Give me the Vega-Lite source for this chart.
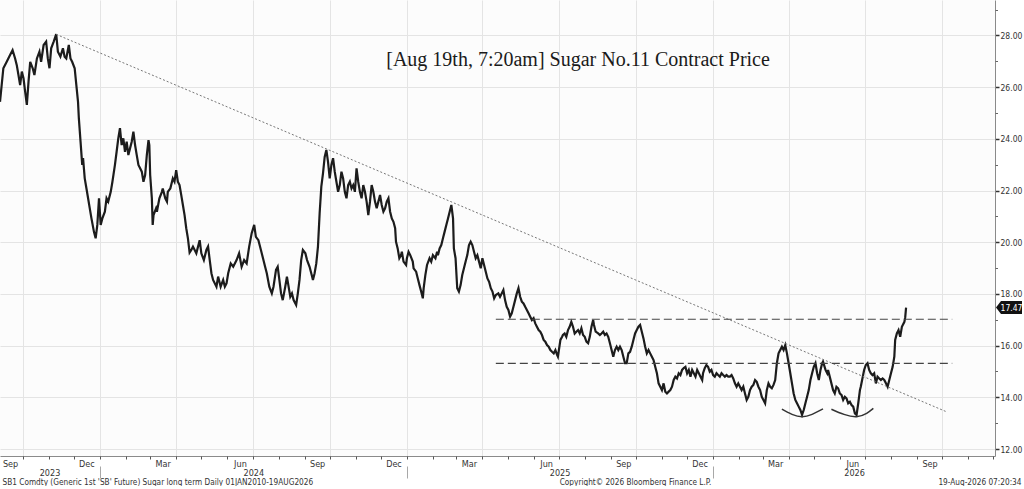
{
  "$schema": "https://vega.github.io/schema/vega-lite/v6.json",
  "width": 995,
  "height": 456,
  "padding": 0,
  "autosize": {"type": "pad"},
  "background": "#ffffff",
  "config": {
    "view": {"stroke": null, "fill": "#fcfcfc"},
    "axis": {
      "labelFont": "Liberation Sans Narrow, DejaVu Sans Condensed, sans-serif",
      "titleFont": "Liberation Sans Narrow, DejaVu Sans Condensed, sans-serif",
      "labelColor": "#333333",
      "titleColor": "#333333",
      "labelFontSize": 9.5,
      "titleFontSize": 8.2,
      "titleFontWeight": "normal"
    }
  },
  "datasets": {
    "prices": [
      {"date":"2023-09-04","price":25.43},{"date":"2023-09-08","price":26.73},{"date":"2023-09-12","price":26.98},{"date":"2023-09-16","price":27.24},
      {"date":"2023-09-19","price":27.43},{"date":"2023-09-22","price":27.11},{"date":"2023-09-24","price":26.85},{"date":"2023-09-26","price":26.47},
      {"date":"2023-09-28","price":26.08},{"date":"2023-09-30","price":26.60},{"date":"2023-10-02","price":26.34},{"date":"2023-10-04","price":25.82},
      {"date":"2023-10-06","price":25.31},{"date":"2023-10-08","price":26.21},{"date":"2023-10-10","price":26.98},{"date":"2023-10-13","price":26.73},
      {"date":"2023-10-15","price":26.47},{"date":"2023-10-18","price":27.11},{"date":"2023-10-21","price":27.37},{"date":"2023-10-23","price":26.98},
      {"date":"2023-10-26","price":27.63},{"date":"2023-10-29","price":27.76},{"date":"2023-10-31","price":27.11},{"date":"2023-11-02","price":26.73},
      {"date":"2023-11-04","price":27.50},{"date":"2023-11-07","price":27.76},{"date":"2023-11-10","price":28.05},{"date":"2023-11-12","price":27.37},
      {"date":"2023-11-15","price":27.18},{"date":"2023-11-18","price":27.50},{"date":"2023-11-20","price":27.18},{"date":"2023-11-22","price":27.11},
      {"date":"2023-11-25","price":27.63},{"date":"2023-11-27","price":27.11},{"date":"2023-11-29","price":26.98},{"date":"2023-12-02","price":26.73},
      {"date":"2023-12-04","price":26.08},{"date":"2023-12-06","price":25.43},{"date":"2023-12-07","price":24.79},{"date":"2023-12-09","price":23.89},
      {"date":"2023-12-11","price":22.99},{"date":"2023-12-12","price":23.25},{"date":"2023-12-14","price":22.47},{"date":"2023-12-16","price":22.09},
      {"date":"2023-12-18","price":21.70},{"date":"2023-12-20","price":21.31},{"date":"2023-12-22","price":20.92},{"date":"2023-12-25","price":20.40},
      {"date":"2023-12-27","price":20.15},{"date":"2023-12-29","price":20.67},{"date":"2023-12-31","price":21.70},{"date":"2024-01-02","price":20.67},
      {"date":"2024-01-04","price":20.92},{"date":"2024-01-07","price":21.18},{"date":"2024-01-09","price":21.70},{"date":"2024-01-11","price":21.57},
      {"date":"2024-01-14","price":21.95},{"date":"2024-01-16","price":22.34},{"date":"2024-01-19","price":22.99},{"date":"2024-01-21","price":23.50},
      {"date":"2024-01-23","price":24.02},{"date":"2024-01-25","price":24.41},{"date":"2024-01-27","price":23.76},{"date":"2024-01-29","price":24.02},
      {"date":"2024-01-31","price":23.50},{"date":"2024-02-02","price":23.89},{"date":"2024-02-04","price":23.37},{"date":"2024-02-06","price":23.63},
      {"date":"2024-02-08","price":23.89},{"date":"2024-02-10","price":24.28},{"date":"2024-02-12","price":23.76},{"date":"2024-02-14","price":23.37},
      {"date":"2024-02-16","price":22.99},{"date":"2024-02-18","price":22.86},{"date":"2024-02-20","price":22.73},{"date":"2024-02-22","price":22.34},
      {"date":"2024-02-24","price":22.60},{"date":"2024-02-26","price":23.37},{"date":"2024-02-28","price":23.95},{"date":"2024-02-29","price":23.76},
      {"date":"2024-03-01","price":22.60},{"date":"2024-03-03","price":21.70},{"date":"2024-03-04","price":20.67},{"date":"2024-03-05","price":21.05},
      {"date":"2024-03-08","price":21.31},{"date":"2024-03-09","price":21.18},{"date":"2024-03-12","price":21.70},{"date":"2024-03-15","price":21.95},
      {"date":"2024-03-16","price":22.08},{"date":"2024-03-19","price":21.70},{"date":"2024-03-21","price":21.57},{"date":"2024-03-22","price":21.95},
      {"date":"2024-03-25","price":22.08},{"date":"2024-03-28","price":22.47},{"date":"2024-03-30","price":22.34},{"date":"2024-04-01","price":22.79},
      {"date":"2024-04-03","price":22.34},{"date":"2024-04-05","price":22.21},{"date":"2024-04-07","price":21.83},{"date":"2024-04-09","price":21.44},
      {"date":"2024-04-11","price":21.05},{"date":"2024-04-13","price":20.54},{"date":"2024-04-15","price":20.15},{"date":"2024-04-17","price":19.60},
      {"date":"2024-04-19","price":19.70},{"date":"2024-04-21","price":19.83},{"date":"2024-04-25","price":19.57},{"date":"2024-04-29","price":20.08},
      {"date":"2024-05-01","price":19.57},{"date":"2024-05-04","price":19.31},{"date":"2024-05-07","price":19.70},{"date":"2024-05-09","price":19.83},
      {"date":"2024-05-11","price":19.31},{"date":"2024-05-13","price":18.80},{"date":"2024-05-15","price":18.54},{"date":"2024-05-19","price":18.28},
      {"date":"2024-05-21","price":18.67},{"date":"2024-05-24","price":18.28},{"date":"2024-05-27","price":18.54},{"date":"2024-05-29","price":18.28},
      {"date":"2024-05-31","price":18.41},{"date":"2024-06-02","price":18.80},{"date":"2024-06-05","price":19.18},{"date":"2024-06-08","price":19.05},
      {"date":"2024-06-12","price":19.31},{"date":"2024-06-15","price":19.57},{"date":"2024-06-18","price":19.05},{"date":"2024-06-21","price":19.31},
      {"date":"2024-06-24","price":19.18},{"date":"2024-06-27","price":19.83},{"date":"2024-06-30","price":20.35},{"date":"2024-07-03","price":20.67},
      {"date":"2024-07-05","price":20.21},{"date":"2024-07-08","price":20.08},{"date":"2024-07-11","price":19.70},{"date":"2024-07-14","price":19.31},
      {"date":"2024-07-16","price":19.05},{"date":"2024-07-18","price":18.80},{"date":"2024-07-21","price":18.28},{"date":"2024-07-24","price":18.02},
      {"date":"2024-07-26","price":18.28},{"date":"2024-07-29","price":18.93},{"date":"2024-07-31","price":19.05},{"date":"2024-08-02","price":18.54},
      {"date":"2024-08-04","price":18.02},{"date":"2024-08-06","price":17.76},{"date":"2024-08-09","price":18.28},{"date":"2024-08-11","price":18.67},
      {"date":"2024-08-13","price":18.28},{"date":"2024-08-15","price":17.89},{"date":"2024-08-17","price":18.02},{"date":"2024-08-19","price":17.76},
      {"date":"2024-08-22","price":17.57},{"date":"2024-08-24","price":18.02},{"date":"2024-08-26","price":18.54},{"date":"2024-08-28","price":19.31},
      {"date":"2024-08-30","price":19.70},{"date":"2024-09-02","price":19.57},{"date":"2024-09-04","price":19.31},{"date":"2024-09-07","price":19.05},
      {"date":"2024-09-10","price":18.67},{"date":"2024-09-11","price":18.54},{"date":"2024-09-13","price":18.80},{"date":"2024-09-15","price":19.18},
      {"date":"2024-09-17","price":19.83},{"date":"2024-09-19","price":21.12},{"date":"2024-09-21","price":22.15},{"date":"2024-09-23","price":22.66},
      {"date":"2024-09-25","price":23.30},{"date":"2024-09-27","price":23.57},{"date":"2024-09-29","price":23.11},{"date":"2024-10-01","price":22.47},
      {"date":"2024-10-03","price":22.99},{"date":"2024-10-05","price":23.25},{"date":"2024-10-07","price":22.73},{"date":"2024-10-09","price":22.34},
      {"date":"2024-10-11","price":21.95},{"date":"2024-10-13","price":22.21},{"date":"2024-10-15","price":22.73},{"date":"2024-10-17","price":22.47},
      {"date":"2024-10-19","price":21.95},{"date":"2024-10-21","price":21.70},{"date":"2024-10-23","price":22.21},{"date":"2024-10-25","price":22.34},
      {"date":"2024-10-27","price":22.08},{"date":"2024-10-29","price":22.21},{"date":"2024-10-31","price":21.95},{"date":"2024-11-02","price":22.86},
      {"date":"2024-11-04","price":22.34},{"date":"2024-11-06","price":21.95},{"date":"2024-11-08","price":21.70},{"date":"2024-11-10","price":22.21},
      {"date":"2024-11-12","price":21.95},{"date":"2024-11-14","price":21.57},{"date":"2024-11-16","price":21.05},{"date":"2024-11-18","price":21.57},
      {"date":"2024-11-20","price":22.21},{"date":"2024-11-22","price":21.95},{"date":"2024-11-24","price":21.57},{"date":"2024-11-26","price":21.31},
      {"date":"2024-11-28","price":21.57},{"date":"2024-11-30","price":21.83},{"date":"2024-12-02","price":21.44},{"date":"2024-12-04","price":21.18},
      {"date":"2024-12-06","price":21.31},{"date":"2024-12-08","price":21.57},{"date":"2024-12-10","price":21.70},{"date":"2024-12-12","price":21.18},
      {"date":"2024-12-14","price":20.92},{"date":"2024-12-16","price":20.79},{"date":"2024-12-18","price":20.54},{"date":"2024-12-19","price":20.02},
      {"date":"2024-12-21","price":19.76},{"date":"2024-12-23","price":19.38},{"date":"2024-12-25","price":19.50},{"date":"2024-12-26","price":19.63},
      {"date":"2024-12-28","price":19.25},{"date":"2024-12-31","price":19.12},{"date":"2025-01-01","price":19.38},{"date":"2025-01-03","price":19.63},
      {"date":"2025-01-05","price":19.50},{"date":"2025-01-08","price":19.25},{"date":"2025-01-09","price":18.99},{"date":"2025-01-12","price":18.86},
      {"date":"2025-01-14","price":18.60},{"date":"2025-01-16","price":18.34},{"date":"2025-01-18","price":18.09},{"date":"2025-01-20","price":17.83},
      {"date":"2025-01-21","price":18.22},{"date":"2025-01-23","price":18.73},{"date":"2025-01-25","price":19.12},{"date":"2025-01-28","price":19.38},
      {"date":"2025-01-30","price":19.25},{"date":"2025-02-01","price":19.50},{"date":"2025-02-04","price":19.38},{"date":"2025-02-06","price":19.63},
      {"date":"2025-02-07","price":19.50},{"date":"2025-02-09","price":19.76},{"date":"2025-02-11","price":19.89},{"date":"2025-02-13","price":20.15},
      {"date":"2025-02-15","price":20.41},{"date":"2025-02-17","price":20.67},{"date":"2025-02-19","price":20.92},{"date":"2025-02-21","price":21.18},
      {"date":"2025-02-23","price":21.44},{"date":"2025-02-25","price":20.92},{"date":"2025-02-26","price":19.76},{"date":"2025-02-28","price":19.38},
      {"date":"2025-03-02","price":18.22},{"date":"2025-03-04","price":18.09},{"date":"2025-03-06","price":18.34},{"date":"2025-03-08","price":18.73},
      {"date":"2025-03-10","price":18.99},{"date":"2025-03-12","price":19.25},{"date":"2025-03-14","price":19.50},{"date":"2025-03-16","price":19.89},
      {"date":"2025-03-18","price":20.02},{"date":"2025-03-20","price":19.89},{"date":"2025-03-22","price":19.63},{"date":"2025-03-24","price":19.38},
      {"date":"2025-03-26","price":19.50},{"date":"2025-03-28","price":19.25},{"date":"2025-03-30","price":18.99},{"date":"2025-04-01","price":19.38},
      {"date":"2025-04-03","price":19.12},{"date":"2025-04-05","price":18.86},{"date":"2025-04-07","price":18.60},{"date":"2025-04-09","price":18.47},
      {"date":"2025-04-11","price":18.22},{"date":"2025-04-13","price":18.09},{"date":"2025-04-15","price":17.83},{"date":"2025-04-17","price":17.96},
      {"date":"2025-04-20","price":18.02},{"date":"2025-04-22","price":17.89},{"date":"2025-04-24","price":18.02},{"date":"2025-04-26","price":18.15},
      {"date":"2025-04-28","price":17.76},{"date":"2025-04-30","price":17.50},{"date":"2025-05-02","price":17.38},{"date":"2025-05-04","price":17.12},
      {"date":"2025-05-06","price":17.25},{"date":"2025-05-08","price":17.50},{"date":"2025-05-10","price":17.76},{"date":"2025-05-12","price":18.02},
      {"date":"2025-05-14","price":18.22},{"date":"2025-05-16","price":17.89},{"date":"2025-05-18","price":17.70},{"date":"2025-05-20","price":17.63},
      {"date":"2025-05-22","price":17.50},{"date":"2025-05-24","price":17.38},{"date":"2025-05-26","price":17.25},{"date":"2025-05-28","price":17.12},
      {"date":"2025-05-30","price":16.99},{"date":"2025-06-01","price":17.06},{"date":"2025-06-03","price":16.86},{"date":"2025-06-05","price":16.73},
      {"date":"2025-06-07","price":16.60},{"date":"2025-06-09","price":16.54},{"date":"2025-06-11","price":16.41},{"date":"2025-06-13","price":16.22},
      {"date":"2025-06-15","price":16.15},{"date":"2025-06-17","price":16.02},{"date":"2025-06-19","price":15.96},{"date":"2025-06-21","price":15.83},
      {"date":"2025-06-23","price":15.76},{"date":"2025-06-25","price":15.70},{"date":"2025-06-27","price":15.83},{"date":"2025-06-29","price":15.64},
      {"date":"2025-06-30","price":15.57},{"date":"2025-07-03","price":16.22},{"date":"2025-07-05","price":16.34},{"date":"2025-07-06","price":16.41},
      {"date":"2025-07-08","price":16.47},{"date":"2025-07-10","price":16.34},{"date":"2025-07-12","price":16.60},{"date":"2025-07-14","price":16.73},
      {"date":"2025-07-16","price":16.92},{"date":"2025-07-18","price":16.73},{"date":"2025-07-20","price":16.47},{"date":"2025-07-22","price":16.54},
      {"date":"2025-07-24","price":16.60},{"date":"2025-07-26","price":16.47},{"date":"2025-07-28","price":16.67},{"date":"2025-07-30","price":16.41},
      {"date":"2025-08-01","price":16.34},{"date":"2025-08-03","price":16.15},{"date":"2025-08-05","price":16.09},{"date":"2025-08-07","price":16.34},
      {"date":"2025-08-09","price":16.73},{"date":"2025-08-11","price":16.99},{"date":"2025-08-12","price":16.80},{"date":"2025-08-14","price":16.54},
      {"date":"2025-08-17","price":16.47},{"date":"2025-08-19","price":16.41},{"date":"2025-08-21","price":16.47},{"date":"2025-08-23","price":16.54},
      {"date":"2025-08-25","price":16.41},{"date":"2025-08-27","price":16.47},{"date":"2025-08-29","price":16.34},{"date":"2025-08-31","price":16.09},
      {"date":"2025-09-02","price":15.83},{"date":"2025-09-04","price":15.57},{"date":"2025-09-06","price":15.83},{"date":"2025-09-08","price":15.96},
      {"date":"2025-09-10","price":15.83},{"date":"2025-09-12","price":15.96},{"date":"2025-09-14","price":15.83},{"date":"2025-09-16","price":15.57},
      {"date":"2025-09-18","price":15.32},{"date":"2025-09-20","price":15.32},{"date":"2025-09-22","price":15.70},{"date":"2025-09-24","price":15.76},
      {"date":"2025-09-26","price":15.96},{"date":"2025-09-28","price":16.22},{"date":"2025-09-30","price":16.47},{"date":"2025-10-02","price":16.60},
      {"date":"2025-10-04","price":16.73},{"date":"2025-10-06","price":16.80},{"date":"2025-10-08","price":16.54},{"date":"2025-10-10","price":16.28},
      {"date":"2025-10-12","price":15.96},{"date":"2025-10-14","price":15.70},{"date":"2025-10-16","price":15.83},{"date":"2025-10-18","price":15.70},
      {"date":"2025-10-20","price":15.57},{"date":"2025-10-22","price":15.44},{"date":"2025-10-24","price":15.18},{"date":"2025-10-26","price":14.93},
      {"date":"2025-10-28","price":14.54},{"date":"2025-10-30","price":14.41},{"date":"2025-11-01","price":14.28},{"date":"2025-11-03","price":14.54},
      {"date":"2025-11-05","price":14.22},{"date":"2025-11-07","price":14.15},{"date":"2025-11-09","price":14.22},{"date":"2025-11-11","price":14.28},
      {"date":"2025-11-13","price":14.41},{"date":"2025-11-15","price":14.67},{"date":"2025-11-17","price":14.80},{"date":"2025-11-19","price":14.73},
      {"date":"2025-11-21","price":14.93},{"date":"2025-11-23","price":14.86},{"date":"2025-11-25","price":15.06},{"date":"2025-11-27","price":15.13},
      {"date":"2025-11-29","price":15.18},{"date":"2025-12-01","price":14.93},{"date":"2025-12-03","price":15.06},{"date":"2025-12-05","price":14.80},
      {"date":"2025-12-07","price":15.06},{"date":"2025-12-09","price":14.93},{"date":"2025-12-11","price":14.80},{"date":"2025-12-13","price":15.06},
      {"date":"2025-12-15","price":14.93},{"date":"2025-12-17","price":14.80},{"date":"2025-12-19","price":14.67},{"date":"2025-12-20","price":14.93},
      {"date":"2025-12-22","price":15.13},{"date":"2025-12-24","price":15.25},{"date":"2025-12-26","price":15.18},{"date":"2025-12-28","price":14.99},
      {"date":"2025-12-30","price":15.06},{"date":"2026-01-01","price":14.86},{"date":"2026-01-03","price":14.80},{"date":"2026-01-05","price":14.93},
      {"date":"2026-01-07","price":14.86},{"date":"2026-01-09","price":14.80},{"date":"2026-01-11","price":14.93},{"date":"2026-01-13","price":14.86},
      {"date":"2026-01-15","price":14.80},{"date":"2026-01-17","price":14.86},{"date":"2026-01-19","price":14.80},{"date":"2026-01-21","price":14.80},
      {"date":"2026-01-23","price":14.86},{"date":"2026-01-25","price":14.73},{"date":"2026-01-27","price":14.54},{"date":"2026-01-29","price":14.41},
      {"date":"2026-01-31","price":14.54},{"date":"2026-02-02","price":14.41},{"date":"2026-02-04","price":14.28},{"date":"2026-02-06","price":14.41},
      {"date":"2026-02-08","price":14.15},{"date":"2026-02-10","price":13.90},{"date":"2026-02-12","price":14.02},{"date":"2026-02-14","price":14.28},
      {"date":"2026-02-16","price":14.41},{"date":"2026-02-18","price":14.48},{"date":"2026-02-20","price":14.67},{"date":"2026-02-22","price":14.60},
      {"date":"2026-02-24","price":14.41},{"date":"2026-02-26","price":14.28},{"date":"2026-02-28","price":14.02},{"date":"2026-03-02","price":13.90},
      {"date":"2026-03-04","price":13.77},{"date":"2026-03-06","price":14.28},{"date":"2026-03-08","price":14.54},{"date":"2026-03-10","price":14.41},
      {"date":"2026-03-12","price":14.35},{"date":"2026-03-14","price":14.48},{"date":"2026-03-16","price":14.67},{"date":"2026-03-18","price":15.32},
      {"date":"2026-03-20","price":15.70},{"date":"2026-03-22","price":15.83},{"date":"2026-03-24","price":15.96},{"date":"2026-03-26","price":15.83},
      {"date":"2026-03-28","price":16.02},{"date":"2026-03-30","price":15.70},{"date":"2026-04-01","price":15.32},{"date":"2026-04-03","price":14.93},
      {"date":"2026-04-05","price":14.54},{"date":"2026-04-07","price":14.15},{"date":"2026-04-09","price":13.90},{"date":"2026-04-11","price":13.77},
      {"date":"2026-04-13","price":13.64},{"date":"2026-04-15","price":13.51},{"date":"2026-04-17","price":13.32},{"date":"2026-04-19","price":13.51},
      {"date":"2026-04-21","price":13.77},{"date":"2026-04-23","price":14.02},{"date":"2026-04-25","price":14.28},{"date":"2026-04-27","price":14.67},
      {"date":"2026-04-29","price":14.93},{"date":"2026-05-01","price":15.18},{"date":"2026-05-03","price":15.32},{"date":"2026-05-05","price":14.93},
      {"date":"2026-05-07","price":14.67},{"date":"2026-05-09","price":15.06},{"date":"2026-05-11","price":15.32},{"date":"2026-05-12","price":15.38},
      {"date":"2026-05-15","price":15.06},{"date":"2026-05-17","price":14.93},{"date":"2026-05-18","price":15.06},{"date":"2026-05-20","price":14.80},
      {"date":"2026-05-22","price":14.54},{"date":"2026-05-24","price":14.28},{"date":"2026-05-26","price":14.15},{"date":"2026-05-28","price":14.41},
      {"date":"2026-05-30","price":14.35},{"date":"2026-06-01","price":14.15},{"date":"2026-06-03","price":14.09},{"date":"2026-06-05","price":13.90},
      {"date":"2026-06-07","price":14.02},{"date":"2026-06-09","price":13.96},{"date":"2026-06-11","price":13.77},{"date":"2026-06-13","price":13.83},
      {"date":"2026-06-15","price":13.70},{"date":"2026-06-17","price":13.64},{"date":"2026-06-19","price":13.38},{"date":"2026-06-21","price":13.32},
      {"date":"2026-06-23","price":13.77},{"date":"2026-06-25","price":14.28},{"date":"2026-06-26","price":14.41},{"date":"2026-06-30","price":15.06},
      {"date":"2026-07-02","price":15.25},{"date":"2026-07-04","price":15.32},{"date":"2026-07-06","price":15.06},{"date":"2026-07-08","price":14.93},
      {"date":"2026-07-10","price":14.86},{"date":"2026-07-12","price":14.93},{"date":"2026-07-14","price":14.54},{"date":"2026-07-16","price":14.80},
      {"date":"2026-07-18","price":14.73},{"date":"2026-07-20","price":14.67},{"date":"2026-07-22","price":14.73},{"date":"2026-07-24","price":14.67},
      {"date":"2026-07-26","price":14.54},{"date":"2026-07-28","price":14.41},{"date":"2026-07-30","price":14.67},{"date":"2026-08-01","price":14.93},
      {"date":"2026-08-03","price":15.18},{"date":"2026-08-05","price":15.57},{"date":"2026-08-06","price":16.22},{"date":"2026-08-08","price":16.47},
      {"date":"2026-08-10","price":16.60},{"date":"2026-08-12","price":16.34},{"date":"2026-08-14","price":16.73},{"date":"2026-08-17","price":16.92},
      {"date":"2026-08-18","price":17.10},{"date":"2026-08-19","price":17.47}
    ],
    "trend": [
      {"date": "2023-11-10", "price": 28.04},
      {"date": "2026-10-07", "price": 13.43}
    ],
    "levels": [
      {"start": "2025-04-17", "end": "2026-10-13", "price": 17.02},
      {"start": "2025-04-17", "end": "2026-10-13", "price": 15.31}
    ],
    "cups": [
      {"cup": "first", "date": "2026-03-24", "price": 13.54},
      {"cup": "first", "date": "2026-04-05", "price": 13.34},
      {"cup": "first", "date": "2026-04-17", "price": 13.25},
      {"cup": "first", "date": "2026-04-29", "price": 13.34},
      {"cup": "first", "date": "2026-05-12", "price": 13.55},
      {"cup": "second", "date": "2026-05-22", "price": 13.54},
      {"cup": "second", "date": "2026-06-06", "price": 13.34},
      {"cup": "second", "date": "2026-06-21", "price": 13.25},
      {"cup": "second", "date": "2026-07-03", "price": 13.38},
      {"cup": "second", "date": "2026-07-11", "price": 13.57}
    ],
    "notes": [
      {"date": "2025-07-24", "price": 27.05, "text": "[Aug 19th, 7:20am] Sugar No.11 Contract Price"}
    ],
    "last": [
      {"date": "2026-12-03", "price": 17.47, "label": "17.47"}
    ]
  },
  "resolve": {"axis": {"x": "independent", "y": "independent"}},
  "layer": [
    {
      "data": {"name": "prices"},
      "mark": {"type": "line", "color": "#1c1c1c", "strokeWidth": 2.2, "clip": true},
      "encoding": {
        "x": {
          "field": "date", "type": "temporal",
          "scale": {"type": "utc", "domain": [{"year": 2023, "month": 9, "date": 4, "utc": true}, {"year": 2026, "month": 12, "date": 3, "utc": true}]},
          "axis": {
            "orient": "bottom",
            "tickCount": {"interval": "month", "step": 3},
            "grid": true, "gridColor": "#e4e4e4", "ticks": false, "labels": false,
            "domain": true, "domainColor": "#8a8a8a",
            "title": "SB1 Comdty (Generic 1st 'SB' Future) Sugar long term Daily 01JAN2010-19AUG2026",
            "titleAnchor": "start", "titleAlign": "left", "titleX": 2, "titleY": 26, "titleBaseline": "middle"
          }
        },
        "y": {
          "field": "price", "type": "quantitative",
          "scale": {"domain": [11.73, 29.37], "nice": false, "zero": false},
          "axis": {
            "orient": "right", "values": [12, 14, 16, 18, 20, 22, 24, 26, 28], "format": ".2f",
            "grid": true, "gridColor": "#e4e4e4", "domainColor": "#8a8a8a",
            "tickColor": "#333333", "tickSize": 4, "tickWidth": 1.5, "labelPadding": 1,
            "labelFontSize": 8.5, "title": null
          }
        }
      }
    },
    {
      "data": {"name": "trend"},
      "mark": {"type": "line", "color": "#777777", "strokeWidth": 1, "strokeDash": [2, 2]},
      "encoding": {
        "x": {
          "field": "date", "type": "temporal",
          "axis": {
            "orient": "bottom",
            "tickCount": {"interval": "month", "step": 1},
            "grid": false, "labels": false, "domain": false, "tickSize": 3, "tickColor": "#555555",
            "title": "Copyright© 2026 Bloomberg Finance L.P.",
            "titleX": 635, "titleY": 26, "titleAlign": "center", "titleBaseline": "middle"
          }
        },
        "y": {
          "field": "price", "type": "quantitative",
          "axis": {
            "orient": "right", "values": [13, 15, 17, 19, 21, 23, 25, 27, 29],
            "labels": false, "grid": false, "domain": false, "tickSize": 2.5, "tickColor": "#666666", "title": null
          }
        }
      }
    },
    {
      "data": {"name": "levels"},
      "mark": {"type": "rule", "color": "#444444", "strokeWidth": 1.2, "strokeDash": [8, 4]},
      "encoding": {
        "x": {
          "field": "start", "type": "temporal",
          "axis": {
            "orient": "bottom",
            "values": [
              {"year": 2023, "month": 9, "date": 16, "utc": true}, {"year": 2023, "month": 12, "date": 16, "utc": true},
              {"year": 2024, "month": 3, "date": 16, "utc": true}, {"year": 2024, "month": 6, "date": 16, "utc": true},
              {"year": 2024, "month": 9, "date": 16, "utc": true}, {"year": 2024, "month": 12, "date": 16, "utc": true},
              {"year": 2025, "month": 3, "date": 16, "utc": true}, {"year": 2025, "month": 6, "date": 16, "utc": true},
              {"year": 2025, "month": 9, "date": 16, "utc": true}, {"year": 2025, "month": 12, "date": 16, "utc": true},
              {"year": 2026, "month": 3, "date": 16, "utc": true}, {"year": 2026, "month": 6, "date": 16, "utc": true},
              {"year": 2026, "month": 9, "date": 16, "utc": true}
            ],
            "format": "%b", "ticks": false, "domain": false, "grid": false, "labelPadding": 3,
            "labelBaseline": "top", "labelFontSize": 9, "title": null
          }
        },
        "x2": {"field": "end"},
        "y": {"field": "price", "type": "quantitative", "axis": null}
      }
    },
    {
      "data": {"name": "cups"},
      "mark": {"type": "line", "color": "#333333", "strokeWidth": 1.5, "interpolate": "natural"},
      "encoding": {
        "x": {
          "field": "date", "type": "temporal",
          "axis": {
            "orient": "bottom",
            "values": [
              {"year": 2023, "month": 11, "date": 2, "utc": true}, {"year": 2024, "month": 7, "date": 2, "utc": true},
              {"year": 2025, "month": 7, "date": 2, "utc": true}, {"year": 2026, "month": 6, "date": 18, "utc": true}
            ],
            "format": "%Y", "offset": 10, "ticks": false, "domain": false, "grid": false, "labelPadding": 2,
            "labelBaseline": "top", "labelFontSize": 9, "title": null
          }
        },
        "y": {"field": "price", "type": "quantitative", "axis": null},
        "detail": {"field": "cup"}
      }
    },
    {
      "data": {"name": "notes"},
      "mark": {"type": "text", "font": "Liberation Serif", "fontSize": 20, "color": "#1a1a1a", "align": "center", "baseline": "middle"},
      "encoding": {
        "x": {
          "field": "date", "type": "temporal",
          "axis": {
            "orient": "bottom",
            "tickCount": {"interval": "year", "step": 1},
            "offset": 10, "tickSize": 12, "tickColor": "#a8a8a8", "labels": false, "domain": false, "grid": false,
            "title": "19-Aug-2026 07:20:34",
            "titleX": 1021, "titleY": 16, "titleAlign": "right", "titleBaseline": "middle"
          }
        },
        "y": {"field": "price", "type": "quantitative", "axis": null},
        "text": {"field": "text"}
      }
    },
    {
      "data": {"name": "last"},
      "mark": {"type": "point", "shape": "M1,0 L6,-6.5 L27,-6.5 L27,6.5 L6,6.5 Z", "size": 4, "filled": true, "opacity": 1, "color": "#111111", "clip": false},
      "encoding": {
        "x": {"field": "date", "type": "temporal", "axis": null},
        "y": {"field": "price", "type": "quantitative", "axis": null}
      }
    },
    {
      "data": {"name": "last"},
      "mark": {"type": "text", "font": "Liberation Sans Narrow, DejaVu Sans Condensed, sans-serif", "fontSize": 8.5, "color": "#ffffff", "align": "center", "baseline": "middle", "dx": 16.5},
      "encoding": {
        "x": {"field": "date", "type": "temporal", "axis": null},
        "y": {"field": "price", "type": "quantitative", "axis": null},
        "text": {"field": "label"}
      }
    }
  ]
}
